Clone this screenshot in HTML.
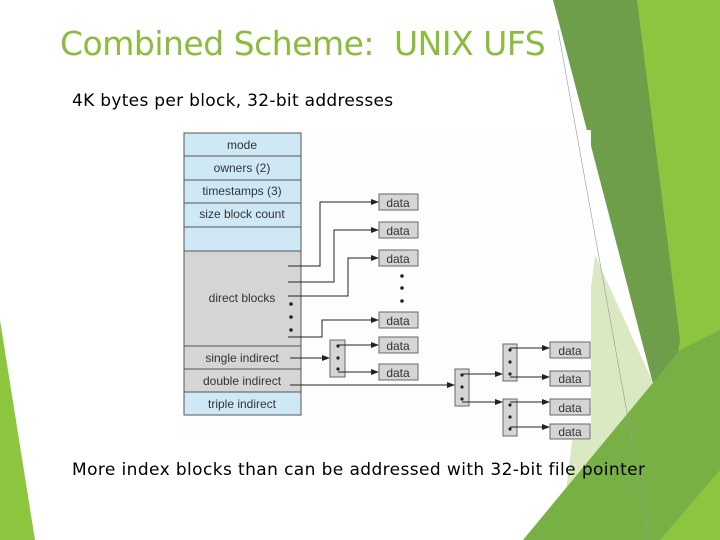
<!DOCTYPE html>
<html><head><style>
body{margin:0;width:720px;height:540px;overflow:hidden;background:#fff;position:relative;font-family:"Liberation Sans",sans-serif}
.t{position:absolute;white-space:nowrap}
</style></head><body>
<svg width="720" height="540" style="position:absolute;left:0;top:0">
<polygon points="0,320 35,540 0,540" fill="#8cc63f"/>
<polygon points="637,0 720,0 720,540 672,540" fill="#8cc63f"/>
<polygon points="553,0 637,0 680,340 665,430" fill="#6e9e4a"/>
<polygon points="595,255 670,420 640,540 560,540" fill="#dbe9c3"/>
<polygon points="523,540 680,350 720,330 720,540" fill="#78b045"/>
<polygon points="660,540 720,470 720,540" fill="#8cc63f"/>
<rect x="183" y="130" width="408" height="310" fill="#fdfdfd"/>
<line x1="558" y1="30" x2="650" y2="540" stroke="#999" stroke-width="0.6"/>
<g font-size="12" font-family="Liberation Sans,sans-serif" fill="#333" stroke="none" text-anchor="middle">
<g stroke="#555" stroke-width="1">
<rect x="184" y="133" width="117" height="118" fill="#cfe8f6"/>
<line x1="184" y1="156" x2="301" y2="156"/><line x1="184" y1="180" x2="301" y2="180"/>
<line x1="184" y1="203" x2="301" y2="203"/><line x1="184" y1="227" x2="301" y2="227"/>
<rect x="184" y="251" width="117" height="141" fill="#d5d5d5"/>
<line x1="184" y1="346" x2="301" y2="346"/><line x1="184" y1="369" x2="301" y2="369"/>
<rect x="184" y="392" width="117" height="23" fill="#cfe8f6"/>
</g>
<text x="242" y="149" stroke="none">mode</text>
<text x="242" y="172">owners (2)</text>
<text x="242" y="195">timestamps (3)</text>
<text x="242" y="218">size block count</text>
<text x="242" y="302">direct blocks</text>
<text x="242" y="362">single indirect</text>
<text x="242" y="385">double indirect</text>
<text x="242" y="408">triple indirect</text>
<g stroke="#666" fill="#d5d5d5">
<rect x="379" y="194" width="39" height="16"/><rect x="379" y="222" width="39" height="16"/>
<rect x="379" y="250" width="39" height="16"/><rect x="379" y="312" width="39" height="16"/>
<rect x="379" y="337" width="39" height="16"/><rect x="379" y="364" width="39" height="16"/>
<rect x="550" y="342" width="40" height="16"/><rect x="550" y="371" width="40" height="15"/>
<rect x="550" y="399" width="40" height="16"/><rect x="550" y="424" width="40" height="15"/>
<rect x="330" y="340" width="15" height="37"/><rect x="455" y="369" width="14" height="37"/>
<rect x="503" y="344" width="14" height="37"/><rect x="503" y="399" width="14" height="37"/>
</g>
<g>
<text x="398" y="207">data</text><text x="398" y="235">data</text><text x="398" y="263">data</text>
<text x="398" y="325">data</text><text x="398" y="350">data</text><text x="398" y="377">data</text>
<text x="570" y="355">data</text><text x="570" y="383">data</text><text x="570" y="412">data</text><text x="570" y="436">data</text>
</g>
<g stroke="#222" stroke-width="1" fill="none">
<polyline points="288,266 320,266 320,202 374,202"/>
<polyline points="288,282 334,282 334,230 374,230"/>
<polyline points="288,296 348,296 348,258 374,258"/>
<polyline points="288,337 322,337 322,320 374,320"/>
<line x1="290" y1="358" x2="325" y2="358"/>
<line x1="338" y1="345" x2="374" y2="345"/><line x1="338" y1="372" x2="374" y2="372"/>
<line x1="290" y1="385" x2="450" y2="385"/>
<line x1="462" y1="374" x2="498" y2="374"/><line x1="462" y1="402" x2="498" y2="402"/>
<line x1="510" y1="348" x2="545" y2="348"/><line x1="510" y1="377" x2="545" y2="377"/>
<line x1="510" y1="402" x2="545" y2="402"/><line x1="510" y1="427" x2="545" y2="427"/>
</g>
<g fill="#222">
<polygon points="379,202 371,199 371,205"/><polygon points="379,230 371,227 371,233"/>
<polygon points="379,258 371,255 371,261"/><polygon points="379,320 371,317 371,323"/>
<polygon points="379,345 371,342 371,348"/><polygon points="379,372 371,369 371,375"/>
<polygon points="330,358 322,355 322,361"/><polygon points="455,385 447,382 447,388"/>
<polygon points="503,374 495,371 495,377"/><polygon points="503,402 495,399 495,405"/>
<polygon points="550,348 542,345 542,351"/><polygon points="550,377 542,374 542,380"/>
<polygon points="550,402 542,399 542,405"/><polygon points="550,427 542,424 542,430"/>
<circle cx="402" cy="276" r="1.8"/><circle cx="402" cy="288" r="1.8"/><circle cx="402" cy="301" r="1.8"/>
<circle cx="291" cy="304" r="1.8"/><circle cx="291" cy="317" r="1.8"/><circle cx="291" cy="330" r="1.8"/>
<circle cx="338" cy="346" r="1.6"/><circle cx="338" cy="358" r="1.6"/><circle cx="338" cy="369" r="1.6"/>
<circle cx="462" cy="375" r="1.6"/><circle cx="462" cy="387" r="1.6"/><circle cx="462" cy="399" r="1.6"/>
<circle cx="510" cy="350" r="1.6"/><circle cx="510" cy="362" r="1.6"/><circle cx="510" cy="374" r="1.6"/>
<circle cx="510" cy="405" r="1.6"/><circle cx="510" cy="417" r="1.6"/><circle cx="510" cy="429" r="1.6"/>
</g>
</g>
</svg>
<div class="t" style="left:60px;top:24px;font-size:33px;color:#8cbc3c;font-family:'DejaVu Sans',sans-serif;letter-spacing:-0.5px">Combined Scheme:&nbsp; UNIX UFS</div>
<div class="t" style="left:72px;top:91px;font-size:17px;color:#000;font-family:'DejaVu Sans',sans-serif;letter-spacing:0.3px">4K bytes per block, 32-bit addresses</div>
<div class="t" style="left:72px;top:460px;font-size:17px;color:#000;font-family:'DejaVu Sans',sans-serif;letter-spacing:0.4px">More index blocks than can be addressed with 32-bit file pointer</div>
</body></html>
